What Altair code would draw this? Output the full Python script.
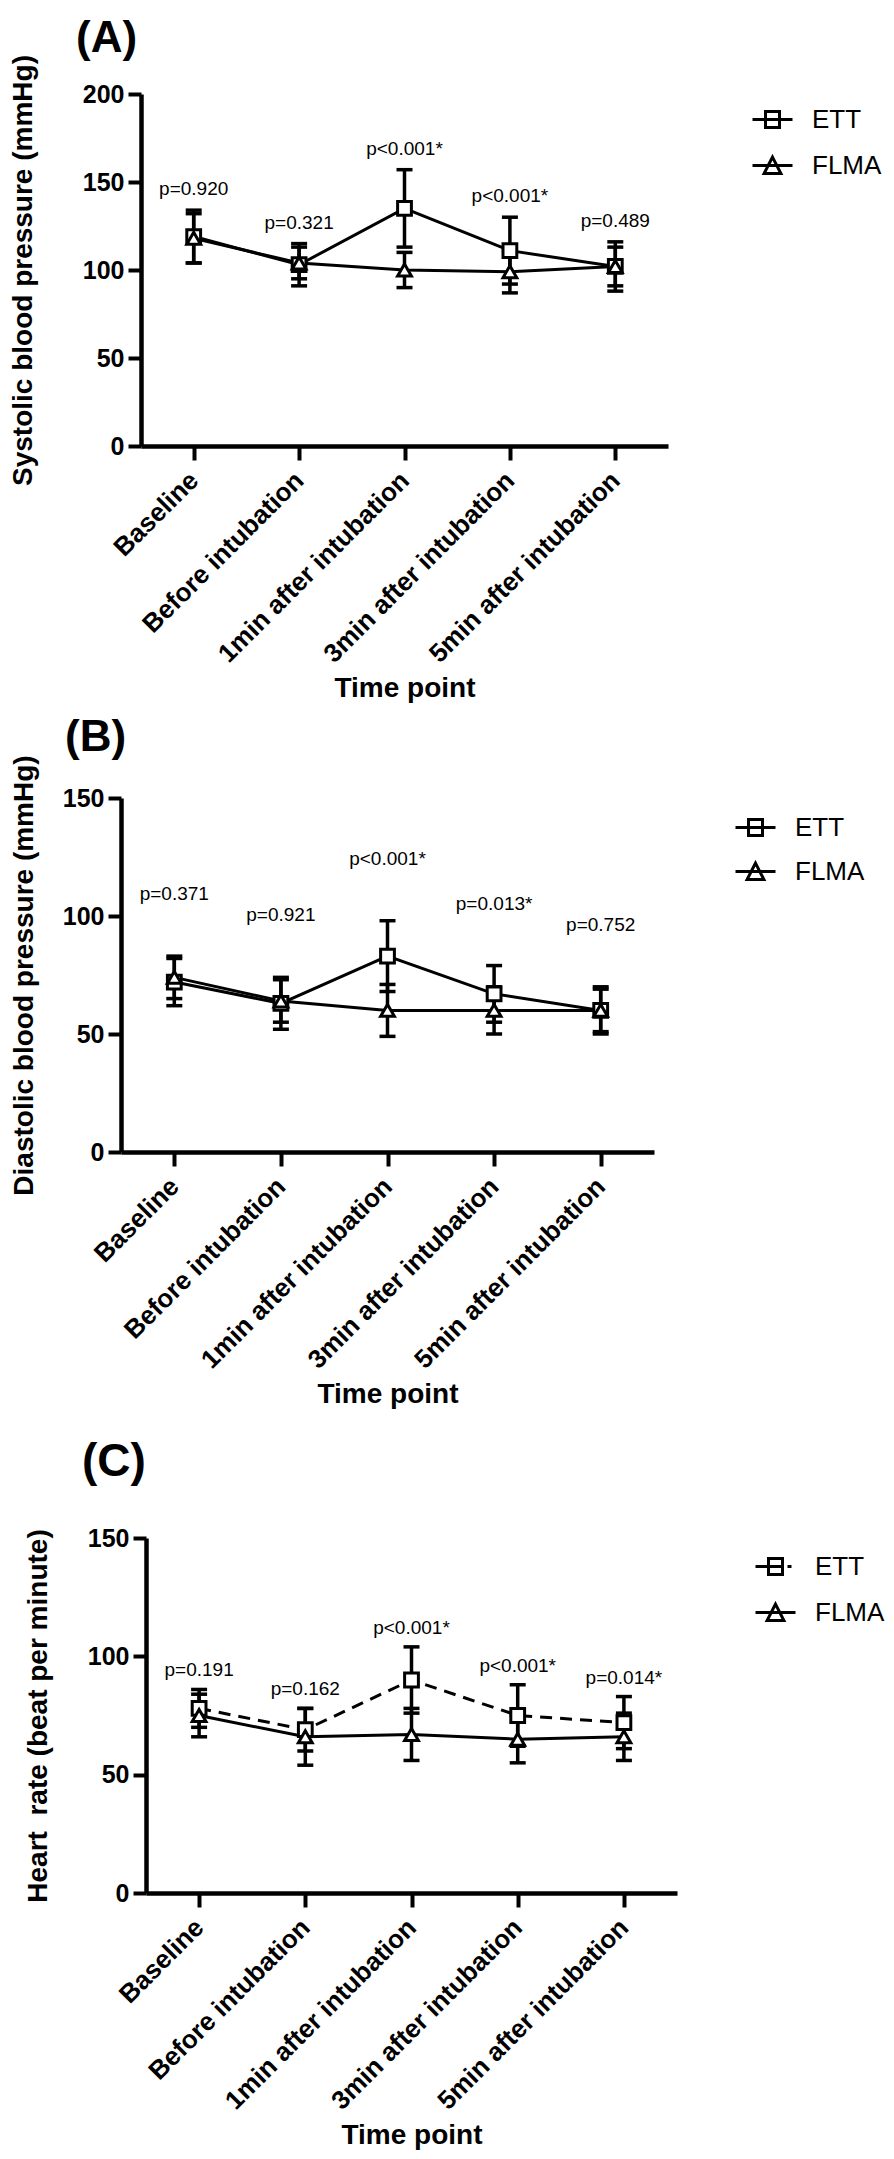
import altair as alt
import pandas as pd

# ---------------- data ----------------
time_points = ["Baseline", "Before intubation", "1min after intubation",
               "3min after intubation", "5min after intubation"]
groups = ["ETT", "FLMA"]

sbp_ett_mean = [119, 103, 135, 111, 102]
sbp_ett_sd = [15, 12, 22, 19, 14]
sbp_flma_mean = [118, 104, 100, 99, 102]
sbp_flma_sd = [14, 9, 10, 12, 11]
sbp_p = ["p=0.920", "p=0.321", "p<0.001*", "p<0.001*", "p=0.489"]

dbp_ett_mean = [72, 63, 83, 67, 60]
dbp_ett_sd = [10, 11, 15, 12, 10]
dbp_flma_mean = [74, 64, 60, 60, 60]
dbp_flma_sd = [9, 9, 11, 10, 9]
dbp_p = ["p=0.371", "p=0.921", "p<0.001*", "p=0.013*", "p=0.752"]

hr_ett_mean = [78, 69, 90, 75, 72]
hr_ett_sd = [8, 9, 14, 13, 11]
hr_flma_mean = [75, 66, 67, 65, 66]
hr_flma_sd = [9, 12, 11, 10, 10]
hr_p = ["p=0.191", "p=0.162", "p<0.001*", "p<0.001*", "p=0.014*"]

FONT = "Liberation Sans"
BLACK = "#000000"

SQ_SOLID = "M-1,0H1M-0.35,-0.4H0.35V0.4H-0.35Z"
TRI_SOLID = "M-1,0H1M0,-0.42L0.42,0.4H-0.42Z"
SQ_DASH = "M-1,0H0.35M-0.35,-0.4H0.35V0.4H-0.35ZM0.6,0H0.8"


def build_df(ett_m, ett_s, flma_m, flma_s):
    return pd.DataFrame({
        "time": time_points * 2,
        "group": ["ETT"] * len(time_points) + ["FLMA"] * len(time_points),
        "mean": ett_m + flma_m,
        "sd": ett_s + flma_s,
    })


def panel(letter, ytitle, df, pvals, ymax, yticks, x_off, width, height,
          ett_dash, legend_paths, title_pad, title_fs, title_dx, title_offset,
          pdy, leg_x, leg_y, leg_row):
    xs = alt.Scale(type="point", domain=time_points, padding=0.5,
                   range=[x_off, x_off + width])
    ys = alt.Scale(domain=[0, ymax], nice=False, zero=True)
    x_axis = alt.Axis(
        title="Time point", labelAngle=-45, labelAlign="right",
        labelBaseline="middle", labelFont=FONT, labelFontSize=26,
        labelFontWeight="bold", labelColor=BLACK, labelPadding=16,
        labelLimit=600, labelOverlap=False, tickSize=14, tickWidth=4,
        tickColor=BLACK, domainWidth=4.5, domainColor=BLACK,
        titleFont=FONT, titleFontSize=28, titleFontWeight="bold",
        titleColor=BLACK, titlePadding=28, grid=False)
    y_axis = alt.Axis(
        title=ytitle, values=yticks, offset=-x_off, labelFont=FONT,
        labelFontSize=25, labelFontWeight="bold", labelColor=BLACK,
        labelPadding=4, tickSize=13, tickWidth=4, tickColor=BLACK,
        domainWidth=4.5, domainColor=BLACK, titleFont=FONT, titleFontSize=28,
        titleFontWeight="bold", titleColor=BLACK, titlePadding=title_pad,
        grid=False)

    def X():
        return alt.X("time:N", scale=xs, axis=x_axis, title="Time point")

    def Y(field):
        return alt.Y(field, scale=ys, axis=y_axis, title=ytitle)

    base = alt.Chart(df).transform_calculate(
        lo="datum.mean - datum.sd", hi="datum.mean + datum.sd")

    line_kw = dict(color=BLACK, strokeWidth=3)
    if ett_dash:
        line_ett = base.transform_filter("datum.group == 'ETT'").mark_line(
            strokeDash=[12, 8], **line_kw).encode(x=X(), y=Y("mean:Q"))
    else:
        line_ett = base.transform_filter("datum.group == 'ETT'").mark_line(
            **line_kw).encode(x=X(), y=Y("mean:Q"))
    line_flma = base.transform_filter("datum.group == 'FLMA'").mark_line(
        **line_kw).encode(x=X(), y=Y("mean:Q"))

    rules = base.mark_rule(color=BLACK, strokeWidth=3.5).encode(
        x=X(), y=Y("lo:Q"), y2="hi:Q")
    cap_lo = base.mark_tick(orient="horizontal", size=16, thickness=3.5,
                            color=BLACK, opacity=1).encode(x=X(), y=Y("lo:Q"))
    cap_hi = base.mark_tick(orient="horizontal", size=16, thickness=3.5,
                            color=BLACK, opacity=1).encode(x=X(), y=Y("hi:Q"))

    pt_kw = dict(size=190, filled=True, fill="white", stroke=BLACK,
                 strokeWidth=3, opacity=1)
    pts_ett = base.transform_filter("datum.group == 'ETT'").mark_point(
        shape="square", **pt_kw).encode(x=X(), y=Y("mean:Q"))
    pts_flma = base.transform_filter("datum.group == 'FLMA'").mark_point(
        shape="triangle-up", **pt_kw).encode(x=X(), y=Y("mean:Q"))

    pv_df = pd.DataFrame({"time": time_points, "label": pvals})
    ptext = base.transform_aggregate(
        top="max(hi)", groupby=["time"]
    ).transform_lookup(
        lookup="time", from_=alt.LookupData(pv_df, "time", ["label"])
    ).mark_text(dy=-pdy, font=FONT, fontSize=19, color=BLACK,
                baseline="middle").encode(x=X(), y=Y("top:Q"), text="label:N")

    legend_layer = alt.Chart(df).transform_filter("false").mark_point(
        size=1600, strokeWidth=3, color=BLACK, filled=False, opacity=1
    ).encode(
        x=X(), y=Y("mean:Q"),
        shape=alt.Shape("group:N",
                        scale=alt.Scale(domain=groups, range=legend_paths),
                        legend=alt.Legend(
                            title=None, orient="none", legendX=leg_x,
                            legendY=leg_y, symbolSize=1600,
                            symbolStrokeWidth=3, symbolStrokeColor=BLACK,
                            symbolFillColor="white", symbolOpacity=1,
                            labelFont=FONT, labelFontSize=26,
                            labelColor=BLACK, labelOffset=18,
                            rowPadding=leg_row, padding=0)))

    return alt.layer(line_ett, line_flma, rules, cap_lo, cap_hi, pts_ett,
                     pts_flma, ptext, legend_layer).properties(
        width=x_off + width, height=height,
        title=alt.TitleParams(letter, anchor="start", frame="group",
                              dx=title_dx, offset=title_offset, font=FONT,
                              fontSize=title_fs, fontWeight="bold",
                              color=BLACK))


A = panel("(A)", "Systolic blood pressure (mmHg)",
          build_df(sbp_ett_mean, sbp_ett_sd, sbp_flma_mean, sbp_flma_sd),
          sbp_p, 200, [0, 50, 100, 150, 200], 20, 527, 352, False,
          [SQ_SOLID, TRI_SOLID], title_pad=45, title_fs=44, title_dx=-45,
          title_offset=-6, pdy=21, leg_x=630, leg_y=4, leg_row=10)

B = panel("(B)", "Diastolic blood pressure (mmHg)",
          build_df(dbp_ett_mean, dbp_ett_sd, dbp_flma_mean, dbp_flma_sd),
          dbp_p, 150, [0, 50, 100, 150], 0, 533, 354, False,
          [SQ_SOLID, TRI_SOLID], title_pad=24, title_fs=44, title_dx=-56,
          title_offset=-5, pdy=62, leg_x=613, leg_y=8, leg_row=8)

C = panel("(C)", "Heart\u00a0 rate (beat per minute)",
          build_df(hr_ett_mean, hr_ett_sd, hr_flma_mean, hr_flma_sd),
          hr_p, 150, [0, 50, 100, 150], 25, 531, 355, True,
          [SQ_DASH, TRI_SOLID], title_pad=35, title_fs=46, title_dx=-39,
          title_offset=40, pdy=19, leg_x=633, leg_y=7, leg_row=10)

inner = alt.concat(A, B, columns=1, align="none", spacing=12).resolve_scale(
    x="independent", y="independent", shape="independent"
).resolve_legend(shape="independent")

chart = alt.concat(inner, C, columns=1, align="none", spacing=29).resolve_scale(
    x="independent", y="independent", shape="independent"
).resolve_legend(shape="independent").properties(
    padding={"left": 0, "top": 8, "right": 0, "bottom": 0},
    background="white"
).configure_view(stroke="transparent")

chart.save("out.html", embed_options={"renderer": "svg", "actions": False})
